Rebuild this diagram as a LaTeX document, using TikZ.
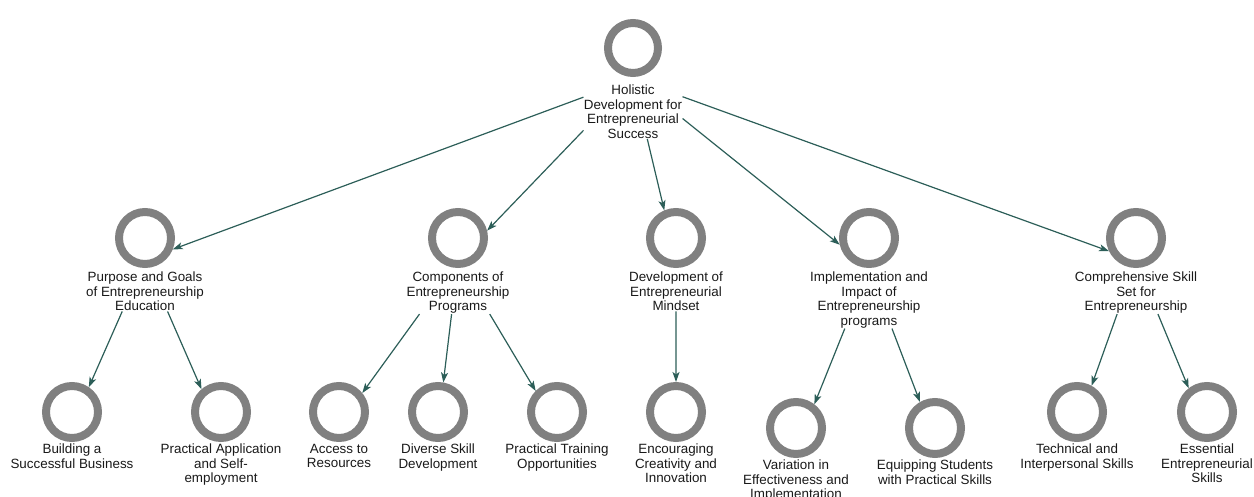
\documentclass[tikz,border=0pt]{standalone}
\usepackage{fontspec}
\setmainfont{Liberation Sans}
\usetikzlibrary{positioning}
\usetikzlibrary{fit}
\usetikzlibrary{arrows.meta}
\usetikzlibrary{intersections}
\definecolor{ringgray}{RGB}{128, 128, 128}
\definecolor{linkteal}{RGB}{44, 94, 88}
\tikzstyle{ring} = [
	circle,
	draw=ringgray,
	line width=8pt,
	minimum size=52pt,
	inner sep=0pt
]
\tikzstyle{lbl} = [
	align=center,
	inner sep=0pt,
	text=black!90,
	font=\fontsize{13.4pt}{14.5pt}\selectfont
]
\tikzstyle{conn} = [
	draw=linkteal,
	line width=1.2pt,
	-{Stealth[length=10pt, width=7pt, inset=2.5pt]}
]

\begin{document}
\begin{tikzpicture}[x=1pt, y=-1pt, node distance=4pt]
	\useasboundingbox (0,0) rectangle (1254,497);
	
	%
	% Root
	\node[ring, minimum size=50pt] (root) at (633,48) {};
	\node[lbl, below=8pt of root] (root-lbl) {Holistic\\Development for\\Entrepreneurial\\Success};
	
	% First level
	\node[ring] (purp) at (145,238) {};
	\node[lbl, below=of purp] (purp-lbl) {Purpose and Goals\\of Entrepreneurship\\Education};
	\node[ring] (comp) at (458,238) {};
	\node[lbl, below=of comp] (comp-lbl) {Components of\\Entrepreneurship\\Programs};
	\node[ring] (dev) at (676,238) {};
	\node[lbl, below=of dev] (dev-lbl) {Development of\\Entrepreneurial\\Mindset};
	\node[ring] (impl) at (869,238) {};
	\node[lbl, below=of impl] (impl-lbl) {Implementation and\\Impact of\\Entrepreneurship\\programs};
	\node[ring] (compr) at (1136,238) {};
	\node[lbl, below=of compr] (compr-lbl) {Comprehensive Skill\\Set for\\Entrepreneurship};
	
	% Second level
	\node[ring] (build) at (72,412) {};
	\node[lbl, below=2pt of build] (build-lbl) {Building a\\Successful Business};
	\node[ring] (papp) at (221,412) {};
	\node[lbl, below=2pt of papp] (papp-lbl) {Practical Application\\and Self-\\employment};
	\node[ring] (access) at (339,412) {};
	\node[lbl, below=2pt of access] (access-lbl) {Access to\\Resources};
	\node[ring] (diverse) at (438,412) {};
	\node[lbl, below=2pt of diverse] (diverse-lbl) {Diverse Skill\\Development};
	\node[ring] (ptrain) at (557,412) {};
	\node[lbl, below=2pt of ptrain] (ptrain-lbl) {Practical Training\\Opportunities};
	\node[ring] (encour) at (676,412) {};
	\node[lbl, below=2pt of encour] (encour-lbl) {Encouraging\\Creativity and\\Innovation};
	\node[ring] (variat) at (796,428) {};
	\node[lbl, below=2pt of variat] (variat-lbl) {Variation in\\Effectiveness and\\Implementation};
	\node[ring] (equip) at (935,428) {};
	\node[lbl, below=2pt of equip] (equip-lbl) {Equipping Students\\with Practical Skills};
	\node[ring] (tech) at (1077,412) {};
	\node[lbl, below=2pt of tech] (tech-lbl) {Technical and\\Interpersonal Skills};
	\node[ring] (essent) at (1207,412) {};
	\node[lbl, below=2pt of essent] (essent-lbl) {Essential\\Entrepreneurial\\Skills};
	
	% Boxes round each circle and its label
	\foreach \n in {root,purp,comp,dev,impl,compr,build,papp,access,diverse,ptrain,encour,variat,equip,tech,essent}
		\node[fit=(\n)(\n-lbl), inner sep=0pt] (\n-box) {};
	
	% Connectors
	\foreach \a/\b in {root/purp,root/comp,root/dev,root/impl,root/compr,purp/build,purp/papp,comp/access,comp/diverse,comp/ptrain,dev/encour,impl/variat,impl/equip,compr/tech,compr/essent}{
		\path[name path=ln] (\a-box.center) -- (\b-box.center);
		\path[name path=rg] (\b) circle[radius=30pt];
		\draw[conn, name intersections={of=ln and rg, by=tip}] (\a-box) -- (tip);
	}
	
\end{tikzpicture}
\end{document}
